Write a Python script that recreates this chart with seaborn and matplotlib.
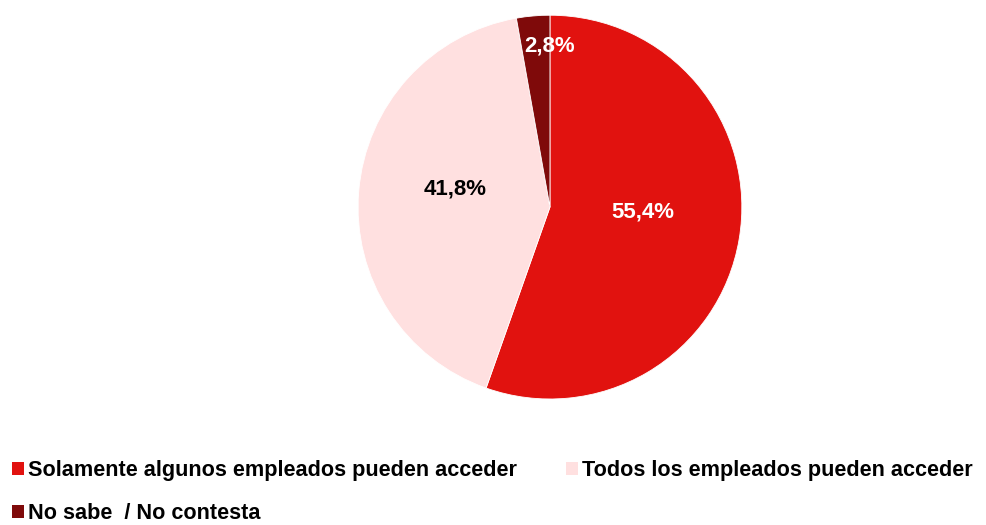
import numpy as np
import matplotlib.pyplot as plt
import seaborn as sns
from matplotlib.patches import Patch

sns.set_theme(style='white')
plt.rcParams['font.family'] = ['Liberation Sans', 'DejaVu Sans']

# Data
categories = ['Solamente algunos empleados pueden acceder',
              'Todos los empleados pueden acceder',
              'No sabe  / No contesta']
values = [55.4, 41.8, 2.8]
colors = ['#E1120F', '#FFE0E0', '#7F0A0A']
label_colors = ['white', 'black', 'white']
# label placement (radius fraction, angle in degrees) as in the original
label_radius = [0.485, 0.505, 0.84]
label_angle = [-3, 169, 90]

fig = plt.figure(figsize=(9.87, 5.25), dpi=100)
ax = fig.add_axes([0.3627, 0.24, 0.389, 0.731])

wedges, _ = ax.pie(values, colors=colors, startangle=90, counterclock=False,
                   wedgeprops=dict(edgecolor='white', linewidth=0.6))
ax.set_xlim(-1, 1)
ax.set_ylim(-1, 1)
ax.set_aspect('equal')

for v, c, r, a in zip(values, label_colors, label_radius, label_angle):
    t = np.deg2rad(a)
    ax.text(r * np.cos(t), r * np.sin(t), f'{v:.1f}%'.replace('.', ','),
            ha='center', va='center', color=c, fontsize=16, fontweight='bold')

# row-major legend order: matplotlib fills columns first
order = [0, 2, 1]
handles = [Patch(facecolor=colors[i], edgecolor='none') for i in order]
labels = [categories[i] for i in order]
leg = fig.legend(handles, labels, ncol=2, loc='lower left',
                 bbox_to_anchor=(-0.008, -0.035), frameon=False,
                 prop={'weight': 'bold', 'size': 15.6}, labelcolor='black',
                 handlelength=0.55, handleheight=0.55, handletextpad=0.2,
                 columnspacing=2.25, labelspacing=1.0)

fig.savefig('out.png', dpi=100)
